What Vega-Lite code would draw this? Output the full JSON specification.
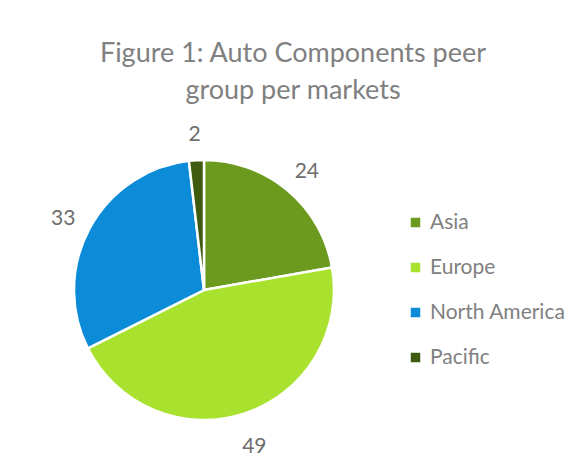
{
  "$schema": "https://vega.github.io/schema/vega-lite/v6.json",
  "autosize": "none",
  "width": 408,
  "height": 300,
  "padding": {"left": 0, "top": 140, "right": 178, "bottom": 23},
  "background": "white",
  "title": {
    "text": ["Figure 1: Auto Components peer", "group per markets"],
    "anchor": "middle",
    "dx": 89,
    "offset": 19,
    "font": "Lato",
    "fontSize": 27,
    "fontWeight": "normal",
    "color": "#808080",
    "lineHeight": 37
  },
  "data": {
    "values": [
      {"market": "Asia", "count": 24},
      {"market": "Europe", "count": 49},
      {"market": "North America", "count": 33},
      {"market": "Pacific", "count": 2}
    ]
  },
  "encoding": {
    "theta": {"field": "count", "type": "quantitative", "stack": true},
    "order": {"field": "market", "type": "nominal", "sort": "ascending"}
  },
  "layer": [
    {
      "mark": {"type": "arc", "radius": 130, "stroke": "white", "strokeWidth": 2.5},
      "encoding": {
        "color": {
          "field": "market",
          "type": "nominal",
          "scale": {
            "domain": ["Asia", "Europe", "North America", "Pacific"],
            "range": ["#6B9A1E", "#A8E22E", "#0B8BD8", "#3E5B10"]
          },
          "legend": {
            "title": null,
            "orient": "none",
            "legendX": 405,
            "legendY": 72,
            "symbolType": "square",
            "symbolSize": 90,
            "symbolStrokeWidth": 0,
            "labelFont": "Lato",
            "labelFontSize": 21,
            "labelColor": "#808080",
            "labelOffset": 4,
            "rowPadding": 23
          }
        }
      }
    },
    {
      "mark": {"type": "text", "radius": 160, "dy": 5, "font": "Lato", "fontSize": 21, "color": "#6d6d6d"},
      "encoding": {
        "text": {"field": "count", "type": "quantitative"},
        "detail": {"field": "market", "type": "nominal"}
      }
    }
  ],
  "config": {"view": {"stroke": null}}
}
